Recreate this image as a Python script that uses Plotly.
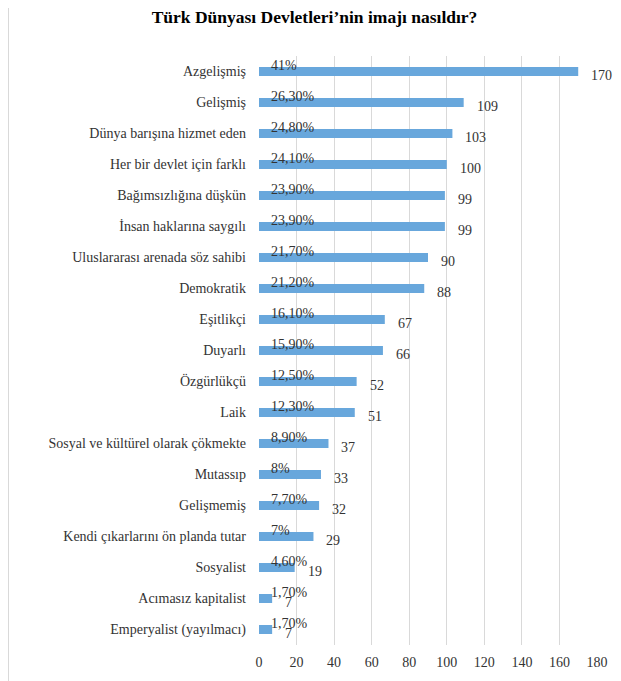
import plotly.graph_objects as go

categories = ["Azgelişmiş", "Gelişmiş", "Dünya barışına hizmet eden", "Her bir devlet için farklı",
              "Bağımsızlığına düşkün", "İnsan haklarına saygılı", "Uluslararası arenada söz sahibi",
              "Demokratik", "Eşitlikçi", "Duyarlı", "Özgürlükçü", "Laik",
              "Sosyal ve kültürel olarak çökmekte", "Mutassıp", "Gelişmemiş",
              "Kendi çıkarlarını ön planda tutar", "Sosyalist", "Acımasız kapitalist",
              "Emperyalist (yayılmacı)"]
counts = [170, 109, 103, 100, 99, 99, 90, 88, 67, 66, 52, 51, 37, 33, 32, 29, 19, 7, 7]
percents = ["41%", "26,30%", "24,80%", "24,10%", "23,90%", "23,90%", "21,70%", "21,20%",
            "16,10%", "15,90%", "12,50%", "12,30%", "8,90%", "8%", "7,70%", "7%", "4,60%",
            "1,70%", "1,70%"]
x_ticks = [0, 20, 40, 60, 80, 100, 120, 140, 160, 180]

FONT = "Liberation Serif, Times New Roman, serif"
TXT = "#333333"

W, H = 613, 673
L, R, T, B = 251, 24, 48, 36

fig = go.Figure(go.Bar(
    x=counts, y=categories, orientation="h",
    marker=dict(color="#68A7DC", line=dict(width=0)),
    width=0.29,
))

annotations = []
for c, v, p in zip(categories, counts, percents):
    annotations.append(dict(x=0, y=c, text=p, xref="x", yref="y", showarrow=False,
                            xanchor="left", yanchor="middle", xshift=10, yshift=6,
                            font=dict(family=FONT, size=14, color=TXT)))
    annotations.append(dict(x=v, y=c, text=str(v), xref="x", yref="y", showarrow=False,
                            xanchor="left", yanchor="middle", xshift=11, yshift=-4,
                            font=dict(family=FONT, size=14, color=TXT)))

pw = W - L - R
fig.update_layout(
    width=W, height=H,
    margin=dict(l=L, r=R, t=T, b=B),
    paper_bgcolor="white", plot_bgcolor="white",
    title=dict(text="<b>Türk Dünyası Devletleri’nin imajı nasıldır?</b>",
               x=0.5, xref="container", xanchor="center", y=0.996, yref="container",
               yanchor="top",
               font=dict(family=FONT, size=17.5, color="#000000")),
    showlegend=False,
    annotations=annotations,
    shapes=[dict(type="line", xref="paper", yref="paper",
                 x0=(0.5 - L) / pw, x1=(0.5 - L) / pw, y0=-0.2, y1=1.2,
                 line=dict(color="#d9d9d9", width=1))],
)
fig.update_xaxes(range=[0, 180], tickvals=x_ticks, showgrid=True, gridcolor="#d9d9d9",
                 gridwidth=1, zeroline=False, showline=False, ticklabelstandoff=7,
                 tickfont=dict(family=FONT, size=14, color=TXT), ticks="")
fig.update_yaxes(autorange="reversed", showgrid=False, zeroline=False, showline=False,
                 ticks="", ticklabelstandoff=12,
                 tickfont=dict(family=FONT, size=14, color=TXT))

fig.write_html("out.html")
